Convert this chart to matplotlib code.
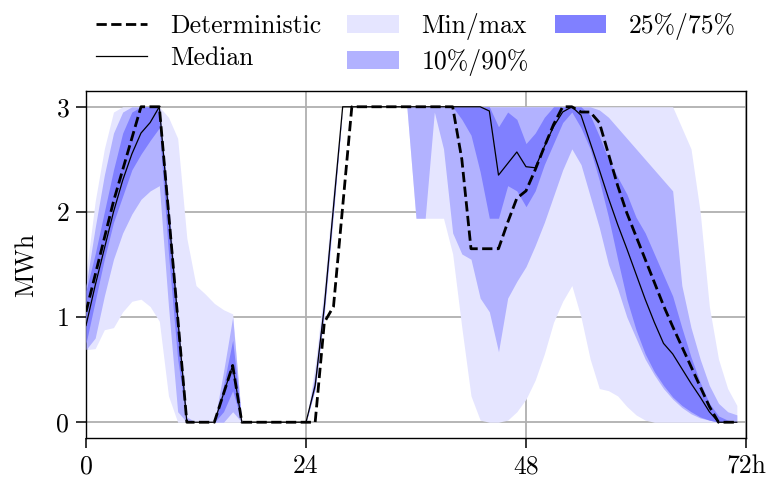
import matplotlib
matplotlib.use("Agg")
import matplotlib.pyplot as plt
from matplotlib.lines import Line2D
from matplotlib.patches import Patch

plt.rcParams['font.family'] = 'serif'
plt.rcParams['font.serif'] = ['cmr10']
plt.rcParams['mathtext.fontset'] = 'cm'
plt.rcParams['axes.formatter.use_mathtext'] = True
plt.rcParams['font.size'] = 18.5

hours = list(range(72))

deterministic = [1.05, 1.4, 1.75, 2.1, 2.4, 2.7, 3.0, 3.0, 3.0, 2.0,
                 1.0, 0, 0, 0, 0, 0.27, 0.54, 0, 0, 0,
                 0, 0, 0, 0, 0, 0, 0.95, 1.1, 2.05, 3.0,
                 3.0, 3.0, 3.0, 3.0, 3.0, 3.0, 3.0, 3.0, 3.0, 3.0,
                 3.0, 2.5, 1.65, 1.65, 1.65, 1.65, 1.9, 2.13, 2.2, 2.4,
                 2.62, 2.83, 3.0, 3.0, 2.95, 2.95, 2.85, 2.55, 2.25, 1.99,
                 1.77, 1.55, 1.33, 1.11, 0.91, 0.72, 0.53, 0.34, 0.15, 0,
                 0, 0]

median = [0.92, 1.3, 1.65, 2.0, 2.3, 2.55, 2.75, 2.85, 3.0, 2.0,
          1.0, 0, 0, 0, 0, 0.27, 0.54, 0, 0, 0,
          0, 0, 0, 0, 0, 0.35, 1.1, 2.05, 3.0, 3.0,
          3.0, 3.0, 3.0, 3.0, 3.0, 3.0, 3.0, 3.0, 3.0, 3.0,
          3.0, 3.0, 3.0, 3.0, 2.96, 2.35, 2.46, 2.57, 2.43, 2.42,
          2.62, 2.81, 2.95, 3.0, 2.92, 2.66, 2.4, 2.13, 1.88, 1.65,
          1.41, 1.17, 0.95, 0.75, 0.65, 0.51, 0.37, 0.24, 0.1, 0,
          0, 0]

q_min = [0.69, 0.7, 0.88, 0.9, 1.05, 1.15, 1.17, 1.1, 0.96, 0.25,
         0, 0, 0, 0, 0, 0, 0, 0, 0, 0,
         0, 0, 0, 0, 0, 0.3, 1.0, 1.95, 3.0, 3.0,
         3.0, 3.0, 3.0, 3.0, 3.0, 3.0, 1.94, 1.94, 1.94, 1.94,
         1.6, 0.9, 0.25, 0.02, 0, 0, 0.02, 0.1, 0.22, 0.4,
         0.65, 0.95, 1.15, 1.3, 1.0, 0.6, 0.32, 0.3, 0.25, 0.15,
         0.07, 0.02, 0, 0, 0, 0, 0, 0, 0, 0,
         0, 0]

q10 = [0.69, 0.8, 1.2, 1.55, 1.8, 1.98, 2.12, 2.2, 2.25, 1.1,
       0.1, 0, 0, 0, 0, 0, 0.1, 0, 0, 0,
       0, 0, 0, 0, 0, 0.32, 1.05, 2.0, 3.0, 3.0,
       3.0, 3.0, 3.0, 3.0, 3.0, 3.0, 1.94, 1.94, 2.95, 2.6,
       1.8, 1.6, 1.55, 1.18, 1.05, 0.67, 1.18, 1.34, 1.48, 1.68,
       1.9, 2.15, 2.4, 2.6, 2.45, 2.15, 1.85, 1.5, 1.27, 1.0,
       0.8, 0.6, 0.45, 0.32, 0.22, 0.14, 0.08, 0.04, 0.02, 0,
       0, 0]

q25 = [0.75, 1.15, 1.55, 1.9, 2.15, 2.4, 2.55, 2.68, 2.8, 1.6,
       0.6, 0, 0, 0, 0, 0.1, 0.3, 0, 0, 0,
       0, 0, 0, 0, 0, 0.33, 1.08, 2.03, 3.0, 3.0,
       3.0, 3.0, 3.0, 3.0, 3.0, 3.0, 3.0, 3.0, 3.0, 3.0,
       3.0, 2.88, 2.73, 2.38, 1.94, 1.94, 2.25, 2.2, 2.05, 2.2,
       2.45, 2.65, 2.85, 2.95, 2.8, 2.6, 2.3, 1.95, 1.55, 1.17,
       0.88, 0.65, 0.48, 0.35, 0.24, 0.16, 0.1, 0.05, 0.02, 0,
       0, 0]

q75 = [1.25, 1.6, 2.0, 2.4, 2.75, 2.95, 3.0, 3.0, 3.0, 2.05,
       1.0, 0, 0, 0, 0, 0.35, 0.78, 0, 0, 0,
       0, 0, 0, 0, 0, 0.42, 1.18, 2.12, 3.0, 3.0,
       3.0, 3.0, 3.0, 3.0, 3.0, 3.0, 3.0, 3.0, 3.0, 3.0,
       3.0, 3.0, 3.0, 3.0, 3.0, 2.81, 2.95, 2.88, 2.65, 2.75,
       2.9, 3.0, 3.0, 3.0, 3.0, 2.92, 2.72, 2.5, 2.33, 2.17,
       1.95, 1.8, 1.6, 1.4, 1.2, 0.9, 0.62, 0.38, 0.18, 0.06,
       0.02, 0]

q90 = [1.3, 1.85, 2.35, 2.75, 2.95, 3.0, 3.0, 3.0, 3.0, 2.1,
       1.05, 0.05, 0, 0, 0, 0.48, 1.0, 0, 0, 0,
       0, 0, 0, 0, 0, 0.47, 1.22, 2.16, 3.0, 3.0,
       3.0, 3.0, 3.0, 3.0, 3.0, 3.0, 3.0, 3.0, 3.0, 3.0,
       3.0, 3.0, 3.0, 3.0, 3.0, 3.0, 3.0, 3.0, 3.0, 3.0,
       3.0, 3.0, 3.0, 3.0, 3.0, 3.0, 2.97, 2.9, 2.8, 2.7,
       2.6, 2.5, 2.4, 2.3, 2.2, 1.3, 0.9, 0.6, 0.35, 0.18,
       0.1, 0.07]

q_max = [1.4, 2.1, 2.6, 2.95, 3.0, 3.0, 3.0, 3.0, 3.0, 2.9,
         2.7, 1.75, 1.3, 1.22, 1.13, 1.07, 1.03, 0, 0, 0,
         0, 0, 0, 0, 0, 0.55, 1.3, 2.25, 3.0, 3.0,
         3.0, 3.0, 3.0, 3.0, 3.0, 3.0, 3.0, 3.0, 3.0, 3.0,
         3.0, 3.0, 3.0, 3.0, 3.0, 3.0, 3.0, 3.0, 3.0, 3.0,
         3.0, 3.0, 3.0, 3.0, 3.0, 3.0, 3.0, 3.0, 3.0, 3.0,
         3.0, 3.0, 3.0, 3.0, 3.0, 2.8, 2.6, 2.0, 1.1, 0.6,
         0.32, 0.16]

xticks = [0, 24, 48, 72]
xticklabels = ['0', '24', '48', '72h']
yticks = [0, 1, 2, 3]

c_minmax = '#e5e5ff'
c_10_90 = '#b2b2ff'
c_25_75 = '#8080ff'

fig = plt.figure(figsize=(7.67, 4.79), dpi=100)
ax = fig.add_axes([86 / 767, 41 / 479, 660 / 767, 347 / 479])

# bands first, widest at the back
ax.fill_between(hours, q_min, q_max, color=c_minmax, lw=0, zorder=2)
ax.fill_between(hours, q10, q90, color=c_10_90, lw=0, zorder=3)
ax.fill_between(hours, q25, q75, color=c_25_75, lw=0, zorder=4)
ax.plot(hours, median, color='black', lw=0.9, zorder=5)
ax.plot(hours, deterministic, color='black', lw=2.0, ls='--', zorder=6)

ax.set_xlim(0, 72)
ax.set_ylim(-0.15, 3.15)
ax.set_xticks(xticks)
ax.set_xticklabels(xticklabels)
ax.set_yticks(yticks)
ax.set_ylabel('MWh', labelpad=12)
ax.grid(True, color='#b0b0b0', lw=1.3, zorder=1)
ax.set_axisbelow(True)
ax.tick_params(direction='out', length=7, width=1.1, pad=5)
for s in ax.spines.values():
    s.set_linewidth(1.0)

handles = [
    Line2D([], [], color='black', lw=2.0, ls='--'),
    Line2D([], [], color='black', lw=0.9),
    Patch(color=c_minmax, lw=0),
    Patch(color=c_10_90, lw=0),
    Patch(color=c_25_75, lw=0),
]
labels = ['Deterministic', 'Median', 'Min/max', '10%/90%', '25%/75%']
ax.legend(handles, labels, ncol=3, frameon=False, loc='lower center',
          bbox_to_anchor=(0.5, 1.0), columnspacing=1.0, handletextpad=0.9,
          labelspacing=0.35, borderaxespad=0.2)

fig.savefig('out.png', dpi=100)
